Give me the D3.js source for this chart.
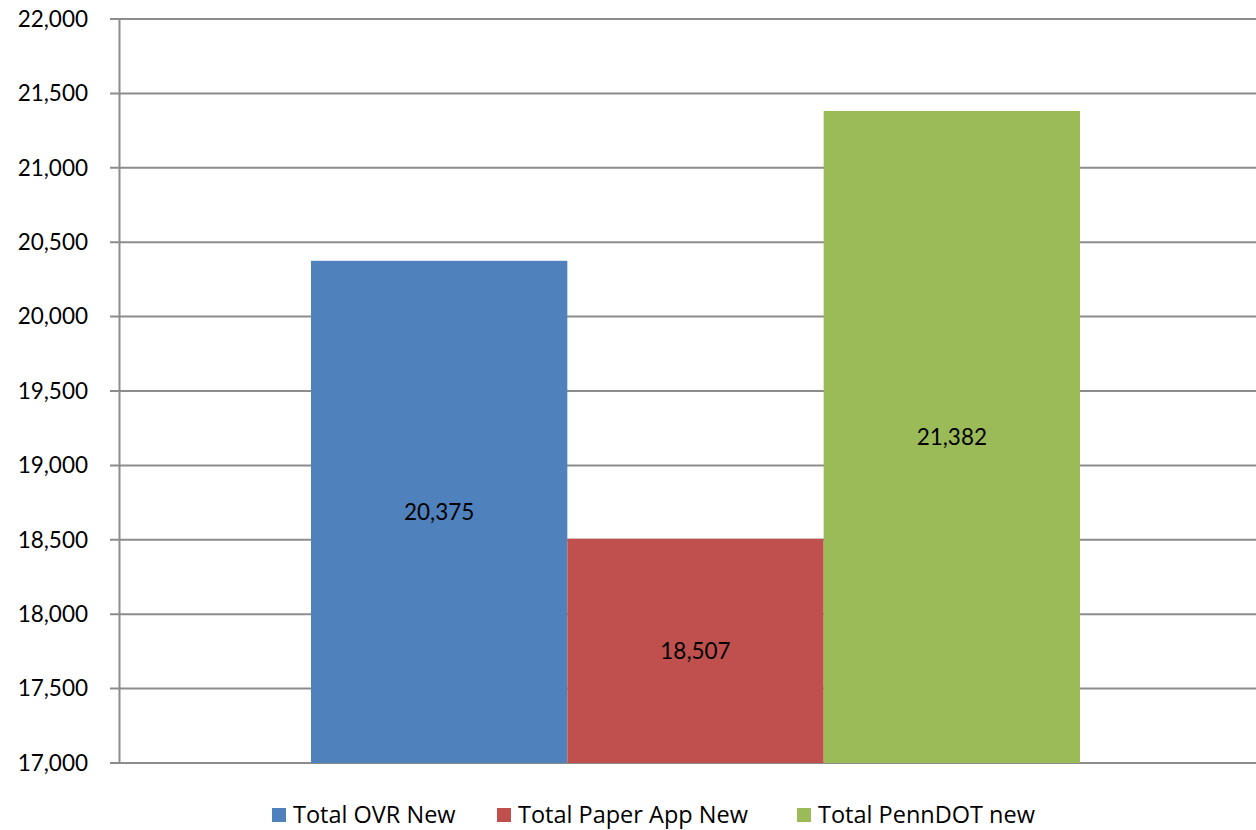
<!DOCTYPE html>
<html>
<head>
<meta charset="utf-8">
<script src="https://cdn.jsdelivr.net/npm/d3@7"></script>
<style>
	body { margin: 0; background: #fff; }
	text { font-family: Lato, "Open Sans", sans-serif; fill: #000; }
</style>
</head>
<body>
<svg id="chart" width="1256" height="830"></svg>
<script>
"use strict";

// données
const series = ["Total OVR New", "Total Paper App New", "Total PennDOT new"];
const values = [20375, 18507, 21382];
const colors = ["#4f81bd", "#c0504d", "#9bbb59"];
const yTicks = [17000, 17500, 18000, 18500, 19000, 19500, 20000, 20500, 21000, 21500, 22000];

const svg = d3.select("#chart");
const marge = { left: 119, top: 19, right: 1271, bottom: 763 };

const y = d3.scaleLinear()
	.domain([17000, 22000])
	.range([marge.bottom, marge.top]);

// une seule catégorie, trois séries
const x = d3.scaleBand()
	.domain(series)
	.range([311, 1080]);

// grille
svg.append("g")
	.selectAll("line")
	.data(yTicks)
	.enter()
		.append("line")
		.attr("x1", marge.left - 9)
		.attr("x2", marge.right)
		.attr("y1", d => y(d))
		.attr("y2", d => y(d))
		.attr("stroke", "#8c8c8c")
		.attr("stroke-width", 2);

// barres
svg.append("g")
	.selectAll("rect")
	.data(values)
	.enter()
		.append("rect")
		.attr("x", (d, i) => x(series[i]))
		.attr("width", x.bandwidth())
		.attr("y", d => y(d))
		.attr("height", d => y(17000) - y(d))
		.attr("fill", (d, i) => colors[i]);

// axe Y
svg.append("g")
	.attr("transform", "translate(" + marge.left + ",0)")
	.call(d3.axisLeft(y)
		.tickValues(yTicks)
		.tickFormat(d3.format(","))
		.tickSize(0)
		.tickPadding(31))
	.call(g => g.select(".domain").attr("stroke", "#8c8c8c").attr("stroke-width", 2))
	.call(g => g.selectAll("text").attr("font-size", 22.5).attr("font-family", "Lato, 'Open Sans', sans-serif"));

// étiquettes
svg.append("g")
	.selectAll("text")
	.data(values)
	.enter()
		.append("text")
		.attr("x", (d, i) => x(series[i]) + x.bandwidth() / 2)
		.attr("y", d => (y(d) + y(17000)) / 2)
		.attr("dy", "0.35em")
		.attr("text-anchor", "middle")
		.attr("font-size", 22.5)
		.text(d => d3.format(",")(d));

// légende
const legendX = [272, 497, 797];
const legende = svg.append("g")
	.selectAll("g")
	.data(series)
	.enter()
		.append("g")
		.attr("transform", (d, i) => "translate(" + legendX[i] + ",815)");
legende.append("rect")
	.attr("x", 0)
	.attr("y", -7)
	.attr("width", 14)
	.attr("height", 14)
	.attr("fill", (d, i) => colors[i]);
legende.append("text")
	.attr("x", 21)
	.attr("dy", "0.35em")
	.attr("font-size", 23.5)
	.style("font-family", "'Open Sans', sans-serif")
	.text(d => d);
</script>
</body>
</html>
